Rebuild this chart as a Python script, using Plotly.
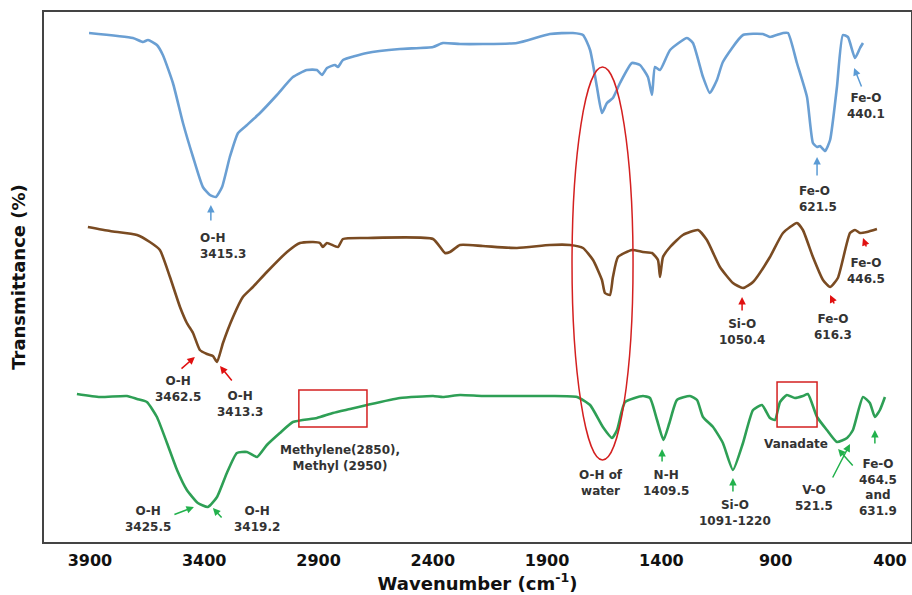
import plotly.graph_objects as go

# ---------------- data (wavenumber cm-1, transmittance a.u.) ----------------
blue_wn = [3904, 3712, 3668, 3646, 3607, 3581, 3537, 3493, 3449, 3406, 3375, 3349, 3322, 3288, 3252,
           3213, 3156, 3082, 3012, 2951, 2907, 2885, 2863, 2828, 2815, 2793, 2688, 2544, 2399, 2356,
           2281, 2181, 2032, 1888, 1787, 1743, 1712, 1682, 1660, 1638, 1612, 1581, 1529, 1494, 1459,
           1441, 1428, 1406, 1362, 1288, 1262, 1218, 1188, 1157, 1131, 1043, 956, 925, 868, 846,
           807, 763, 737, 719, 706, 684, 662, 632, 606, 584, 553, 531, 518]
blue_t = [101.8, 100.8, 100.0, 100.4, 99.4, 97.4, 91.8, 83.8, 77.0, 71.0, 69.4, 69.0, 71.0, 77.0, 81.8,
          83.4, 85.8, 89.4, 93.0, 94.4, 94.4, 93.4, 94.8, 95.4, 95.0, 96.4, 97.8, 98.6, 99.0, 99.8,
          99.6, 99.6, 99.8, 101.6, 101.8, 101.4, 98.4, 91.0, 85.8, 87.8, 88.8, 91.8, 95.8, 95.4, 93.0,
          89.4, 95.0, 94.4, 98.4, 100.8, 99.8, 93.0, 89.8, 92.4, 96.0, 101.4, 101.6, 101.0, 101.8, 101.8,
          95.8, 89.0, 79.8, 79.0, 79.2, 78.2, 80.4, 91.0, 101.4, 101.0, 96.8, 98.8, 99.8]

brown_wn = [3909, 3812, 3694, 3638, 3594, 3550, 3506, 3476, 3449, 3419, 3388, 3362, 3344, 3318, 3274,
            3231, 3187, 3126, 3038, 2981, 2924, 2894, 2881, 2863, 2815, 2793, 2688, 2399, 2347, 2325,
            2281, 2181, 2032, 1888, 1800, 1743, 1699, 1660, 1647, 1625, 1612, 1590, 1529, 1481, 1441,
            1415, 1406, 1393, 1362, 1306, 1240, 1201, 1144, 1087, 1043, 999, 925, 868, 807, 781,
            737, 693, 662, 628, 575, 553, 531, 501, 457]
brown_t = [63.0, 62.2, 61.4, 60.0, 58.4, 53.0, 47.0, 43.8, 41.8, 38.4, 37.6, 37.2, 36.0, 39.8, 45.0,
           49.0, 51.0, 54.0, 58.0, 59.8, 60.0, 59.8, 59.0, 59.8, 59.0, 60.6, 60.8, 60.6, 57.8, 58.0,
           59.4, 59.2, 58.8, 59.4, 59.4, 58.8, 56.4, 52.4, 49.8, 49.4, 53.0, 57.0, 58.4, 58.0, 57.8,
           56.4, 53.0, 57.0, 59.0, 61.4, 62.4, 60.4, 55.0, 51.8, 50.8, 52.0, 57.0, 61.8, 63.8, 62.4,
           57.0, 52.4, 51.0, 52.8, 61.8, 62.4, 61.8, 62.0, 62.6]

green_wn = [3957, 3856, 3738, 3694, 3651, 3607, 3563, 3519, 3476, 3428, 3384, 3344, 3301, 3257, 3213,
            3169, 3126, 3069, 3012, 2907, 2837, 2762, 2688, 2544, 2399, 2356, 2281, 2181, 1888, 1769,
            1712, 1656, 1616, 1594, 1559, 1481, 1450, 1419, 1391, 1365, 1332, 1275, 1244, 1218, 1174,
            1131, 1087, 1043, 999, 960, 925, 903, 881, 851, 816, 781, 759, 719, 676, 632,
            588, 562, 518, 488, 466, 444, 422]
green_t = [29.6, 29.0, 29.2, 28.6, 28.0, 25.0, 19.8, 14.4, 10.4, 7.8, 7.0, 9.0, 13.8, 17.8, 18.0,
           17.0, 19.4, 21.8, 24.0, 24.8, 25.8, 26.6, 27.4, 28.8, 29.2, 29.0, 29.4, 29.2, 29.2, 29.0,
           27.4, 23.0, 20.8, 22.4, 28.0, 29.2, 28.8, 24.4, 20.4, 23.8, 28.4, 29.2, 28.4, 25.0, 23.0,
           19.8, 14.4, 19.8, 26.4, 27.4, 24.8, 24.4, 28.0, 29.4, 28.8, 29.2, 29.6, 25.0, 22.4, 20.0,
           20.8, 22.4, 29.0, 27.8, 25.0, 26.4, 29.0]

x_ticks = [3900, 3400, 2900, 2400, 1900, 1400, 900, 400]

# label texts: (text, wavenumber, T, xanchor)
labels = [
    ("O-H<br>3415.3", 3427, 59.2, "left"),
    ("Fe-O<br>621.5", 807, 68.6, "left"),
    ("Fe-O<br>440.1", 505, 87.2, "center"),
    ("O-H<br>3462.5", 3515, 30.6, "center"),
    ("O-H<br>3413.3", 3244, 27.6, "center"),
    ("Si-O<br>1050.4", 1047, 42.0, "center"),
    ("Fe-O<br>616.3", 649, 43.0, "center"),
    ("Fe-O<br>446.5", 505, 54.2, "center"),
    ("O-H<br>3425.5", 3646, 4.6, "center"),
    ("O-H<br>3419.2", 3169, 4.6, "center"),
    ("Methylene(2850),<br>Methyl (2950)", 2806, 16.8, "center"),
    ("O-H of<br>water", 1664, 11.8, "center"),
    ("N-H<br>1409.5", 1380, 11.8, "center"),
    ("Si-O<br>1091-1220", 1078, 5.8, "center"),
    ("Vanadate", 811, 19.7, "center"),
    ("V-O<br>521.5", 732, 8.9, "center"),
    ("Fe-O<br>464.5<br>and<br>631.9", 452, 10.9, "center"),
]

# arrows: (head wn, head T, tail wn, tail T, colour key)
arrows = [
    (3371, 67.4, 3371, 64.0, "b"),
    (719, 77.0, 719, 73.0, "b"),
    (557, 94.8, 522, 90.8, "b"),
    (3441, 37.0, 3506, 34.4, "r"),
    (3331, 35.2, 3274, 32.0, "r"),
    (1047, 49.0, 1047, 46.0, "r"),
    (662, 49.4, 641, 47.4, "r"),
    (518, 60.8, 501, 58.8, "r"),
    (3445, 7.0, 3537, 5.4, "g"),
    (3362, 6.8, 3318, 4.6, "g"),
    (1397, 18.6, 1397, 15.8, "g"),
    (1087, 12.8, 1087, 9.8, "g"),
    (575, 19.6, 654, 12.6, "g"),
    (627, 18.6, 557, 15.0, "g"),
    (466, 22.4, 466, 19.4, "g"),
]

# highlight regions: (type, wn0, wn1, T0, T1)
regions = [
    ("circle", 1791, 1524, 16.4, 95.0),
    ("rect", 2986, 2688, 23.0, 30.4),
    ("rect", 894, 719, 23.0, 32.0),
]

arrow_colors = {"b": "#5B9BD5", "r": "#E01010", "g": "#22B14C"}

fig = go.Figure()
for wn, t, col in [(blue_wn, blue_t, "#6A9FD3"), (brown_wn, brown_t, "#7A4B22"),
                   (green_wn, green_t, "#2E9F55")]:
    fig.add_trace(go.Scatter(x=wn, y=t, mode="lines",
                             line=dict(color=col, width=2.6, shape="spline", smoothing=0.5),
                             showlegend=False, hoverinfo="skip"))

for txt, x, y, xa in labels:
    fig.add_annotation(x=x, y=y, text=txt, showarrow=False, xanchor=xa, yanchor="middle",
                       align="center" if xa == "center" else "left",
                       font=dict(family="DejaVu Sans", size=12, color="#333333", weight="bold"))

for hx, hy, tx, ty, c in arrows:
    fig.add_annotation(x=hx, y=hy, ax=tx, ay=ty, axref="x", ayref="y", text="",
                       showarrow=True, arrowhead=2, arrowsize=1, arrowwidth=1.5,
                       arrowcolor=arrow_colors[c])

for kind, x0, x1, y0, y1 in regions:
    fig.add_shape(type=kind, x0=x0, x1=x1, y0=y0, y1=y1, xref="x", yref="y",
                  line=dict(color="#D42020", width=1.5))

fig.update_layout(
    width=912, height=595,
    margin=dict(l=44, r=1, t=12, b=53),
    paper_bgcolor="white", plot_bgcolor="white",
    xaxis=dict(range=[4101, 308], tickvals=x_ticks, ticktext=[str(v) for v in x_ticks],
               automargin=False,
               showgrid=False, zeroline=False, showline=True, mirror=True,
               linecolor="#444444", linewidth=1.5,
               ticks="outside", ticklen=3, tickcolor="rgba(0,0,0,0)",
               tickfont=dict(family="DejaVu Sans", size=16, color="#111111", weight="bold"),
               title=dict(text="Wavenumber (cm<sup>-1</sup>)", standoff=3,
                          font=dict(family="DejaVu Sans", size=18, color="#111111", weight="bold"))),
    yaxis=dict(range=[0, 106], showticklabels=False, ticks="", showgrid=False, zeroline=False,
               automargin=False,
               showline=True, mirror=True, linecolor="#444444", linewidth=1.5,
               title=dict(text="Transmittance (%)", standoff=12,
                          font=dict(family="DejaVu Sans", size=18, color="#111111", weight="bold"))),
)

fig.write_html("out.html", config={"displayModeBar": False},
               post_script="document.body.style.margin='0';document.body.style.overflow='hidden';")
